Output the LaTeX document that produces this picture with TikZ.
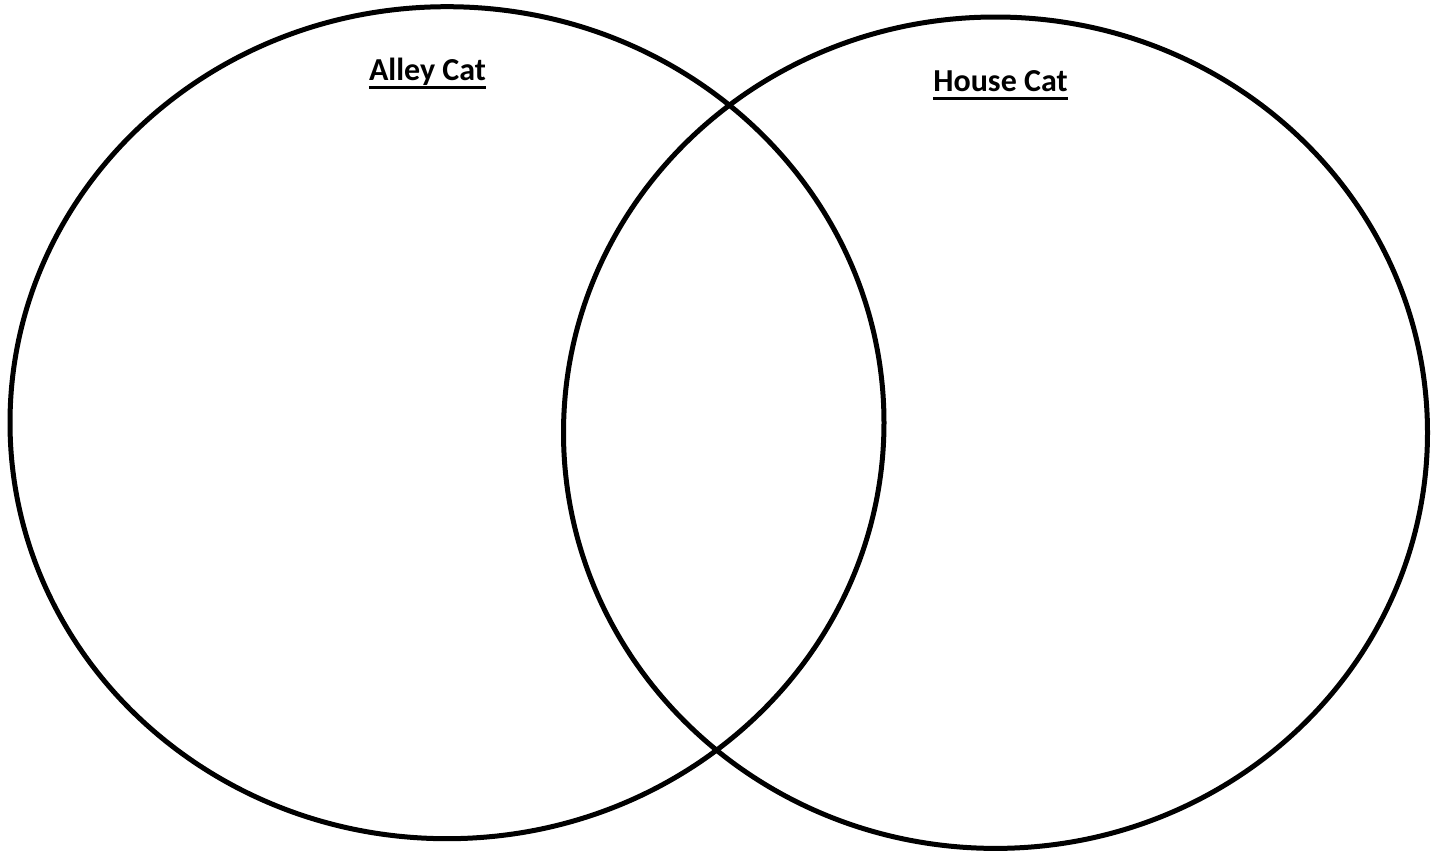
\documentclass[tikz,border=0pt]{standalone}
\usepackage{fontspec}
\setmainfont{Carlito}
\begin{document}
\begin{tikzpicture}[x=1pt,y=-1pt,
  venn/.style={draw=black,line width=5pt},
  title/.style={font=\bfseries\fontsize{32}{38}\selectfont,inner sep=0pt,anchor=base},
  uline/.style={draw=black,line width=3pt}]
\useasboundingbox (0,0) rectangle (1441,854);
\draw[venn] (447,422.7) ellipse [x radius=437, y radius=416];
\draw[venn] (995.5,432.7) ellipse [x radius=432, y radius=415.7];
\node[title] (alley) at (427.5,80.5) {Alley Cat};
\node[title] (house) at (1000.5,91) {House Cat};
\draw[uline] ([yshift=-7pt]alley.base west) -- ([yshift=-7pt]alley.base east);
\draw[uline] ([yshift=-7pt]house.base west) -- ([yshift=-7pt]house.base east);
\end{tikzpicture}
\end{document}
